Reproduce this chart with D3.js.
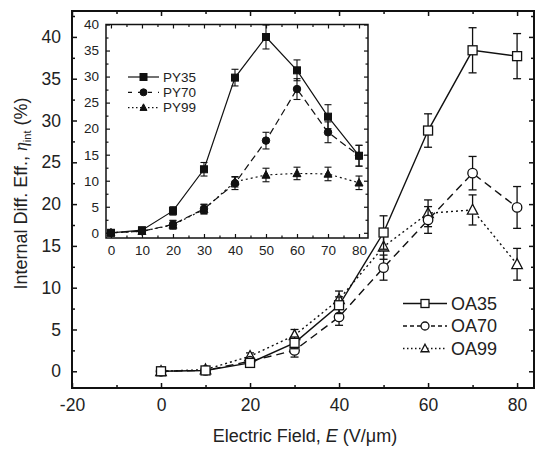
<!DOCTYPE html>
<html>
<head>
<meta charset="utf-8">
<script src="https://cdn.jsdelivr.net/npm/d3@7"></script>
<style>
    body { margin: 0; background: #fff; }
    svg { font-family: "Liberation Sans", Arial, sans-serif; }
    .tick text { fill: #222; }
</style>
</head>
<body>
<div id="chart"></div>
<script>
const W = 535, H = 449;

// main plot: OA samples
const fieldMain = [0, 10, 20, 30, 40, 50, 60, 70, 80];
const oa35 = [0, 0.1, 1.0, 3.4, 7.9, 16.6, 28.8, 38.4, 37.7];
const oa35Err = [0.3, 0.3, 0.4, 0.7, 1.0, 2.0, 2.0, 2.7, 2.7];
const oa70 = [0, 0.1, 1.2, 2.5, 6.5, 12.4, 18.1, 23.7, 19.6];
const oa70Err = [0.3, 0.3, 0.4, 0.8, 1.0, 1.5, 1.6, 2.0, 2.5];
const oa99 = [0, 0.2, 1.8, 4.3, 8.6, 14.9, 18.9, 19.3, 12.8];
const oa99Err = [0.3, 0.3, 0.4, 0.7, 1.0, 1.5, 1.6, 1.8, 1.9];

// inset: PY samples
const fieldInset = [0, 10, 20, 30, 40, 50, 60, 70, 80];
const py35 = [0, 0.5, 4.2, 12.2, 29.8, 37.6, 31.2, 22.3, 14.8];
const py35Err = [0.5, 0.5, 0.8, 1.3, 1.6, 2.3, 2.0, 2.3, 2.0];
const py70 = [0, 0.3, 1.6, 4.6, 9.5, 17.7, 27.6, 19.3, 14.8];
const py70Err = [0.4, 0.4, 0.8, 0.9, 1.2, 1.6, 2.0, 2.0, 2.0];
const py99 = [0, 0.3, 1.5, 4.5, 9.8, 11.1, 11.4, 11.3, 9.6];
const py99Err = [0.4, 0.4, 0.8, 0.9, 1.0, 1.3, 1.2, 1.3, 1.3];

const mainXTicks = [-20, 0, 20, 40, 60, 80];
const mainYTicks = [0, 5, 10, 15, 20, 25, 30, 35, 40];
const insetXTicks = [0, 10, 20, 30, 40, 50, 60, 70, 80];
const insetYTicks = [0, 5, 10, 15, 20, 25, 30, 35, 40];

const svg = d3.select("#chart").append("svg").attr("width", W).attr("height", H);

const main = { left: 72, right: 534, top: 11, bottom: 388 };
const inset = { left: 106, right: 368, top: 24.5, bottom: 238 };

const x = d3.scaleLinear().domain([-20, 83.8]).range([main.left, main.right]);
const y = d3.scaleLinear().domain([-2, 43.1]).range([main.bottom, main.top]);
const xi = d3.scaleLinear().domain([-1.6, 82.9]).range([inset.left, inset.right]);
const yi = d3.scaleLinear().domain([-1, 40]).range([inset.bottom, inset.top]);

function drawFrame(g, box, xs, ys, xt, yt, xminor, yminor, opt) {
    const noLab = () => "";
    const lab = d => String(d); // plain hyphen for negatives, like the original
    // minor ticks
    g.append("g").attr("transform", `translate(0,${box.bottom})`)
        .call(d3.axisBottom(xs).tickValues(xminor).tickSize(-opt.minor).tickFormat(noLab));
    g.append("g").attr("transform", `translate(0,${box.top})`)
        .call(d3.axisTop(xs).tickValues(xminor).tickSize(-opt.minor).tickFormat(noLab));
    g.append("g").attr("transform", `translate(${box.left},0)`)
        .call(d3.axisLeft(ys).tickValues(yminor).tickSize(-opt.minor).tickFormat(noLab));
    g.append("g").attr("transform", `translate(${box.right},0)`)
        .call(d3.axisRight(ys).tickValues(yminor).tickSize(-opt.minor).tickFormat(noLab));
    // major ticks
    g.append("g").attr("transform", `translate(0,${box.bottom})`)
        .call(d3.axisBottom(xs).tickValues(xt).tickSize(-opt.major).tickPadding(opt.pad + opt.major).tickFormat(lab))
        .attr("font-size", opt.font).attr("font-family", null);
    g.append("g").attr("transform", `translate(0,${box.top})`)
        .call(d3.axisTop(xs).tickValues(xt).tickSize(-opt.major).tickFormat(noLab));
    g.append("g").attr("transform", `translate(${box.left},0)`)
        .call(d3.axisLeft(ys).tickValues(yt).tickSize(-opt.major).tickPadding(opt.pad + opt.major).tickFormat(lab))
        .attr("font-size", opt.font).attr("font-family", null);
    g.append("g").attr("transform", `translate(${box.right},0)`)
        .call(d3.axisRight(ys).tickValues(yt).tickSize(-opt.major).tickFormat(noLab));
    g.selectAll(".domain").remove();
    g.selectAll(".tick line").attr("stroke", "#111").attr("stroke-width", opt.tw);
    g.append("rect")
        .attr("x", box.left).attr("y", box.top)
        .attr("width", box.right - box.left).attr("height", box.bottom - box.top)
        .attr("fill", "none").attr("stroke", "#111").attr("stroke-width", opt.sw);
}

function drawSeries(g, xs, ys, xv, yv, ev, style) {
    const pts = xv.map((d, i) => ({ x: d, y: yv[i], e: ev[i] }));
    const line = d3.line().x(d => xs(d.x)).y(d => ys(d.y));
    g.append("path").datum(pts)
        .attr("d", line).attr("fill", "none").attr("stroke", "#111")
        .attr("stroke-width", style.lw).attr("stroke-dasharray", style.dash);
    const eb = g.append("g").attr("stroke", "#111").attr("stroke-width", style.ew);
    pts.forEach(d => {
        const cx = xs(d.x), y1 = ys(d.y - d.e), y2 = ys(d.y + d.e);
        eb.append("line").attr("x1", cx).attr("x2", cx).attr("y1", y1).attr("y2", y2);
        eb.append("line").attr("x1", cx - style.cap).attr("x2", cx + style.cap).attr("y1", y1).attr("y2", y1);
        eb.append("line").attr("x1", cx - style.cap).attr("x2", cx + style.cap).attr("y1", y2).attr("y2", y2);
    });
    pts.forEach(d => drawMarker(g, xs(d.x), ys(d.y), style, style.size));
}

function drawMarker(g, cx, cy, style, s) {
    const fill = style.filled ? "#111" : "#fff";
    let m;
    if (style.shape === "square") {
        m = g.append("rect").attr("x", cx - s / 2).attr("y", cy - s / 2).attr("width", s).attr("height", s);
    } else if (style.shape === "circle") {
        m = g.append("circle").attr("cx", cx).attr("cy", cy).attr("r", s / 2);
    } else {
        const h = s * 0.9;
        m = g.append("path").attr("d", `M${cx},${cy - h * 0.6}L${cx + s / 2},${cy + h * 0.45}L${cx - s / 2},${cy + h * 0.45}Z`);
    }
    m.attr("fill", fill).attr("stroke", "#111").attr("stroke-width", style.mw);
}

function drawLegend(g, items, lx, ly, dy, len, font, msize, dashes) {
    items.forEach((it, i) => {
        const yy = ly + i * dy;
        g.append("line").attr("x1", lx).attr("x2", lx + len).attr("y1", yy).attr("y2", yy)
            .attr("stroke", "#111").attr("stroke-width", it.style.lw).attr("stroke-dasharray", dashes[i]);
        drawMarker(g, lx + len / 2, yy, it.style, msize);
        g.append("text").attr("x", lx + len + 4).attr("y", yy).attr("dy", "0.36em")
            .attr("font-size", font).attr("fill", "#222").text(it.name);
    });
}

// ---- main plot
const gMain = svg.append("g");
drawFrame(gMain, main, x, y, mainXTicks, mainYTicks,
    [-10, 10, 30, 50, 70], [2.5, 7.5, 12.5, 17.5, 22.5, 27.5, 32.5, 37.5, 42.5],
    { major: 5, minor: 3, pad: 6, font: 17.5, tw: 1.5, sw: 2 });

const oaStyles = {
    oa35: { shape: "square", filled: false, size: 9, lw: 1.4, dash: null, ew: 1.3, cap: 4, mw: 1.3 },
    oa70: { shape: "circle", filled: false, size: 9.5, lw: 1.4, dash: "8,5", ew: 1.3, cap: 4, mw: 1.3 },
    oa99: { shape: "tri", filled: false, size: 10.5, lw: 1.4, dash: "2,3", ew: 1.3, cap: 4, mw: 1.3 },
};
const gData = svg.append("g");
drawSeries(gData, x, y, fieldMain, oa99, oa99Err, oaStyles.oa99);
drawSeries(gData, x, y, fieldMain, oa70, oa70Err, oaStyles.oa70);
drawSeries(gData, x, y, fieldMain, oa35, oa35Err, oaStyles.oa35);

drawLegend(svg.append("g"), [
    { name: "OA35", style: oaStyles.oa35 },
    { name: "OA70", style: oaStyles.oa70 },
    { name: "OA99", style: oaStyles.oa99 },
], 403, 303.5, 22.5, 44, 18, 8, [null, "4,3", "1.5,2.5"]);

// axis titles
svg.append("text").attr("x", 305).attr("y", 442).attr("text-anchor", "middle")
    .attr("font-size", 18).attr("fill", "#222")
    .call(t => {
        t.append("tspan").text("Electric Field, ");
        t.append("tspan").attr("font-style", "italic").text("E");
        t.append("tspan").text(" (V/\u03bcm)");
    });
svg.append("text").attr("transform", "translate(27,193.5) rotate(-90)").attr("text-anchor", "middle")
    .attr("font-size", 18).attr("fill", "#222")
    .call(t => {
        t.append("tspan").text("Internal Diff. Eff., ");
        t.append("tspan").attr("font-style", "italic").attr("font-family", "Liberation Serif, serif").text("\u03b7");
        t.append("tspan").attr("font-size", 11).attr("dy", 4).text("int");
        t.append("tspan").attr("dy", -4).text(" (%)");
    });

// ---- inset
const gInset = svg.append("g");
gInset.append("rect").attr("x", inset.left).attr("y", inset.top)
    .attr("width", inset.right - inset.left).attr("height", inset.bottom - inset.top).attr("fill", "#fff");
drawFrame(gInset, inset, xi, yi, insetXTicks, insetYTicks,
    [5, 15, 25, 35, 45, 55, 65, 75], [2.5, 7.5, 12.5, 17.5, 22.5, 27.5, 32.5, 37.5],
    { major: 4, minor: 2.5, pad: 3, font: 13.5, tw: 1.2, sw: 1.5 });

const pyStyles = {
    py35: { shape: "square", filled: true, size: 7, lw: 1.2, dash: null, ew: 1.1, cap: 3.5, mw: 1 },
    py70: { shape: "circle", filled: true, size: 7.5, lw: 1.2, dash: "7,4", ew: 1.1, cap: 3.5, mw: 1 },
    py99: { shape: "tri", filled: true, size: 8, lw: 1.2, dash: "2,3", ew: 1.1, cap: 3.5, mw: 1 },
};
const gInData = svg.append("g");
drawSeries(gInData, xi, yi, fieldInset, py99, py99Err, pyStyles.py99);
drawSeries(gInData, xi, yi, fieldInset, py70, py70Err, pyStyles.py70);
drawSeries(gInData, xi, yi, fieldInset, py35, py35Err, pyStyles.py35);

drawLegend(svg.append("g"), [
    { name: "PY35", style: pyStyles.py35 },
    { name: "PY70", style: pyStyles.py70 },
    { name: "PY99", style: pyStyles.py99 },
], 128, 77, 15.3, 31, 13.5, 7, [null, "4,6", "1.5,2.5"]);
</script>
</body>
</html>
